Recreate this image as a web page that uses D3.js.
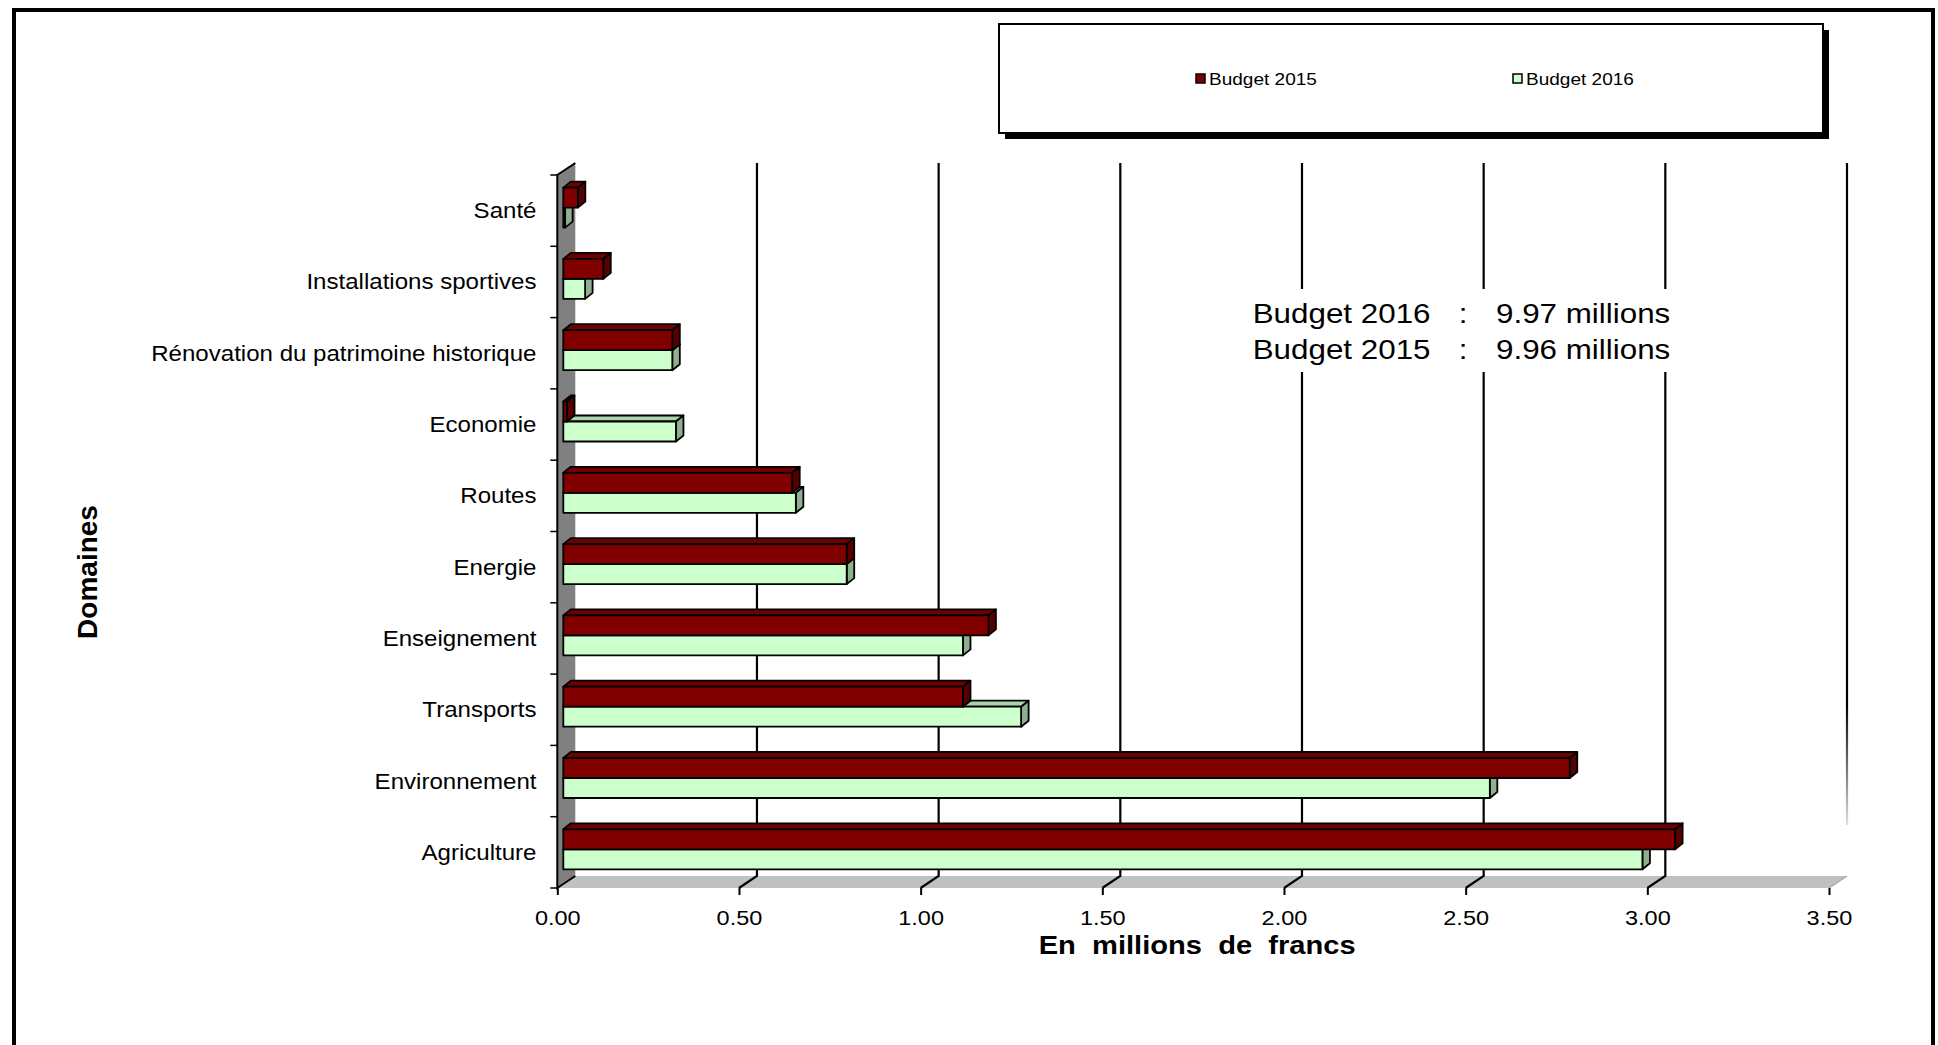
<!DOCTYPE html>
<html>
<head>
<meta charset="utf-8">
<script src="https://cdn.jsdelivr.net/npm/d3@7"></script>
<style>
  html, body { margin: 0; padding: 0; background: #ffffff; }
  svg { display: block; }
  text { font-family: "Liberation Sans", Arial, sans-serif; fill: #000; }
</style>
</head>
<body>
<svg id="chart" width="1938" height="1045"></svg>
<script>
// ---------- data ----------
const categories = [
  "Santé", "Installations sportives", "Rénovation du patrimoine historique",
  "Economie", "Routes", "Energie", "Enseignement", "Transports",
  "Environnement", "Agriculture"
];
const seriesNames = ["Budget 2015", "Budget 2016"];
const budget2015 = [0.04, 0.11, 0.30, 0.01, 0.63, 0.78, 1.17, 1.10, 2.77, 3.06];
const budget2016 = [0.005, 0.06, 0.30, 0.31, 0.64, 0.78, 1.10, 1.26, 2.55, 2.97];
const xTicks = [0, 0.5, 1.0, 1.5, 2.0, 2.5, 3.0, 3.5];
const totalLabels = ["Budget 2016", "Budget 2015"];
const totalValues = ["9.97 millions", "9.96 millions"];
const xTitle = "En  millions  de  francs";
const yTitle = "Domaines";

// ---------- layout ----------
const svg = d3.select("#chart");
const SX = 1.12;               // horizontal stretch of the original text
const depth = {dx: 18, dy: -12};  // 3D wall depth
const barOff = {dx: 6, dy: 0};    // bar front face offset
const barDepth = {dx: 7.5, dy: -6};
const colors = {
  "Budget 2015": {front: "#800000", top: "#6e0000", side: "#560000"},
  "Budget 2016": {front: "#ccffcc", top: "#aad4aa", side: "#8fb08f"}
};

const x = d3.scaleLinear().domain([0, 3.5]).range([557.3, 1829]);
const y = d3.scaleBand().domain(categories).range([175, 888]).paddingInner(0).paddingOuter(0);
const yInner = d3.scaleBand().domain(seriesNames).range([12.6, 52.6]);
const yTop = y.range()[0], yBot = y.range()[1];

function sText(parent, tx, ty, str, size, anchor, weight) {
  return parent.append("text")
    .attr("transform", `translate(${tx},${ty}) scale(${SX},1)`)
    .attr("text-anchor", anchor || "start")
    .style("font-size", size + "px")
    .style("font-weight", weight || "normal")
    .style("white-space", "pre")
    .text(str);
}

// outer frame
svg.append("rect").attr("x", 14).attr("y", 10).attr("width", 1919).attr("height", 1100)
  .attr("fill", "#fff").attr("stroke", "#000").attr("stroke-width", 4);

// defs
const defs = svg.append("defs");
const grad = defs.append("linearGradient").attr("id", "fade")
  .attr("gradientUnits", "userSpaceOnUse")
  .attr("x1", 0).attr("x2", 0).attr("y1", yTop + depth.dy).attr("y2", 825);
grad.append("stop").attr("offset", "0%").attr("stop-color", "#000");
grad.append("stop").attr("offset", "82%").attr("stop-color", "#000");
grad.append("stop").attr("offset", "100%").attr("stop-color", "#e0e0e0");

// floor
const x0 = x(0), xMax = x(3.5);
svg.append("polygon")
  .attr("points", [[x0, yBot], [xMax, yBot], [xMax + depth.dx, yBot + depth.dy], [x0 + depth.dx, yBot + depth.dy]].map(p => p.join(",")).join(" "))
  .attr("fill", "#c0c0c0");
svg.append("line").attr("x1", xMax).attr("y1", yBot).attr("x2", xMax + depth.dx).attr("y2", yBot + depth.dy)
  .attr("stroke", "#a8a8a8").attr("stroke-width", 1.5);

// gridlines (back wall) with diagonal to front
const grid = svg.append("g");
xTicks.filter(t => t > 0 && t < 3.5).forEach(t => {
  const xb = x(t) + depth.dx;
  grid.append("path")
    .attr("d", `M${xb},${yTop + depth.dy} L${xb},${yBot + depth.dy} L${x(t)},${yBot}`)
    .attr("fill", "none").attr("stroke", "#000").attr("stroke-width", 2.2);
});
grid.append("line")
  .attr("x1", x(3.5) + depth.dx).attr("x2", x(3.5) + depth.dx + 0.01)
  .attr("y1", yTop + depth.dy).attr("y2", 825)
  .attr("stroke", "url(#fade)").attr("stroke-width", 2.2);

// left wall
svg.append("polygon")
  .attr("points", [[x0, yTop], [x0 + depth.dx, yTop + depth.dy], [x0 + depth.dx, yBot + depth.dy], [x0, yBot]].map(p => p.join(",")).join(" "))
  .attr("fill", "#808080");
svg.append("path")
  .attr("d", `M${x0 + depth.dx},${yTop + depth.dy} L${x0},${yTop} L${x0},${yBot} L${x0 + depth.dx},${yBot + depth.dy}`)
  .attr("fill", "none").attr("stroke", "#000").attr("stroke-width", 2);

// y ticks at band boundaries
const yBounds = categories.map(c => y(c)).concat([yBot]);
svg.append("g").selectAll("line").data(yBounds).join("line")
  .attr("x1", x0 - 7).attr("x2", x0).attr("y1", d => d).attr("y2", d => d)
  .attr("stroke", "#000").attr("stroke-width", 1.5);

// bars
const rows = categories.map((c, i) => ({cat: c, values: [
  {s: "Budget 2015", v: budget2015[i]},
  {s: "Budget 2016", v: budget2016[i]}
]}));
const bars = svg.append("g");
rows.forEach(r => {
  // draw lower (2016) first, then upper (2015)
  [r.values[1], r.values[0]].forEach(d => {
    const xa = x(0) + barOff.dx, xb = x(d.v) + barOff.dx;
    const ya = y(r.cat) + yInner(d.s) + barOff.dy, h = yInner.bandwidth();
    const c = colors[d.s];
    const g = bars.append("g").attr("stroke", "#000").attr("stroke-width", 1.8).attr("stroke-linejoin", "round");
    g.append("polygon")
      .attr("points", [[xa, ya], [xa + barDepth.dx, ya + barDepth.dy], [xb + barDepth.dx, ya + barDepth.dy], [xb, ya]].map(p => p.join(",")).join(" "))
      .attr("fill", c.top);
    g.append("polygon")
      .attr("points", [[xb, ya], [xb + barDepth.dx, ya + barDepth.dy], [xb + barDepth.dx, ya + h + barDepth.dy], [xb, ya + h]].map(p => p.join(",")).join(" "))
      .attr("fill", c.side);
    g.append("rect").attr("x", xa).attr("y", ya).attr("width", Math.max(0.5, xb - xa)).attr("height", h)
      .attr("fill", c.front);
  });
});

// x axis (front)
const xAxis = d3.axisBottom(x).tickValues(xTicks).tickFormat(d3.format(".2f")).tickSize(7).tickPadding(15);
const xg = svg.append("g").attr("transform", `translate(0,${yBot})`).call(xAxis);
xg.select(".domain").remove();
xg.selectAll(".tick line").attr("stroke", "#000").attr("stroke-width", 2);
xg.selectAll(".tick text")
  .attr("transform", `scale(${SX},1)`)
  .style("font-size", "21px")
  .style("font-family", "\"Liberation Sans\", Arial, sans-serif")
  .attr("fill", "#000");

// category labels
const labels = svg.append("g");
categories.forEach(c => {
  sText(labels, 536.5, y(c) + y.bandwidth() / 2 + 7.5, c, 21.5, "end");
});

// axis titles
sText(svg, (x0 + xMax) / 2 + 4, 954, xTitle, 26, "middle", "bold");
svg.append("text")
  .attr("transform", `translate(97,572) rotate(-90)`)
  .attr("text-anchor", "middle")
  .style("font-size", "28px").style("font-weight", "bold")
  .text(yTitle);

// totals annotation (white box masks the gridlines behind it)
const ann = svg.append("g");
ann.append("rect").attr("x", 1240).attr("y", 289).attr("width", 445).attr("height", 83).attr("fill", "#fff");
totalLabels.forEach((lab, i) => {
  const by = 323 + i * 36;
  sText(ann, 1252.7, by, lab, 28, "start");
  sText(ann, 1463, by, ":", 28, "middle");
  sText(ann, 1496, by, totalValues[i], 28, "start");
});

// legend
const lg = svg.append("g");
lg.append("rect").attr("x", 1005).attr("y", 30).attr("width", 824).attr("height", 109).attr("fill", "#000");
lg.append("rect").attr("x", 999).attr("y", 24).attr("width", 824).attr("height", 109)
  .attr("fill", "#fff").attr("stroke", "#000").attr("stroke-width", 2);
const legendX = [1196, 1513];
seriesNames.forEach((s, i) => {
  lg.append("rect").attr("x", legendX[i]).attr("y", 74).attr("width", 9).attr("height", 9)
    .attr("fill", colors[s].front).attr("stroke", "#000").attr("stroke-width", 1.5);
  sText(lg, legendX[i] + 13, 85, s, 17, "start");
});
</script>
</body>
</html>
